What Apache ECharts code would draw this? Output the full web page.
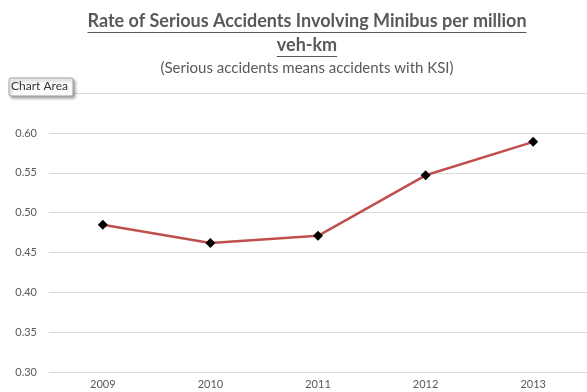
<!DOCTYPE html>
<html>
<head>
<meta charset="utf-8">
<script src="https://cdn.jsdelivr.net/npm/echarts@6/dist/echarts.min.js"></script>
<style>
html,body{margin:0;padding:0;background:#fff;}
#chart{width:587px;height:392px;}
</style>
</head>
<body>
<div id="chart"></div>
<script>
var categories = ['2009', '2010', '2011', '2012', '2013'];
var rates = [0.485, 0.462, 0.471, 0.547, 0.589];
var yTicks = [0.30, 0.35, 0.40, 0.45, 0.50, 0.55, 0.60, 0.65];
var titleLine1 = 'Rate of Serious Accidents Involving Minibus per million';
var titleLine2 = 'veh-km';
var subtitle = '(Serious accidents means accidents with KSI)';

var titleFont = 'bold 18px Lato';
function measure(text, font) {
  var c = document.createElement('canvas').getContext('2d');
  c.font = font;
  return c.measureText(text).width;
}
var cx = 307;
var w1 = measure(titleLine1, titleFont);
var w2 = measure(titleLine2, titleFont);

var chart = echarts.init(document.getElementById('chart'), null, {renderer: 'canvas'});
var textColor = '#595959';
chart.setOption({
  animation: false,
  grid: {left: 49, top: 93.3, bottom: 20, width: 546, containLabel: false},
  xAxis: {
    type: 'category',
    data: categories,
    boundaryGap: true,
    axisLine: {show: false},
    axisTick: {show: false},
    axisLabel: {color: textColor, fontSize: 11, fontFamily: 'Lato', margin: 7}
  },
  yAxis: {
    type: 'value',
    min: yTicks[0],
    max: yTicks[yTicks.length - 1],
    interval: 0.05,
    axisLine: {show: false},
    axisTick: {show: false},
    splitLine: {lineStyle: {color: '#D9D9D9', width: 1}},
    axisLabel: {
      color: textColor, fontSize: 11, fontFamily: 'Lato', margin: 12,
      formatter: function (v) { return v > 0.62 ? '' : v.toFixed(2); }
    }
  },
  series: [{
    type: 'line',
    data: rates,
    symbol: 'diamond',
    symbolSize: 10,
    itemStyle: {color: '#000'},
    lineStyle: {color: '#C0504D', width: 2.5},
    z: 3
  }],
  graphic: [
    {type: 'text', x: cx, y: 12, style: {text: titleLine1, font: titleFont, fill: textColor, textAlign: 'center'}},
    {type: 'line', shape: {x1: cx - w1 / 2, y1: 32.5, x2: cx + w1 / 2, y2: 32.5}, style: {stroke: textColor, lineWidth: 1}},
    {type: 'text', x: cx, y: 36, style: {text: titleLine2, font: titleFont, fill: textColor, textAlign: 'center'}},
    {type: 'line', shape: {x1: cx - w2 / 2, y1: 56.5, x2: cx + w2 / 2, y2: 56.5}, style: {stroke: textColor, lineWidth: 1}},
    {type: 'text', x: cx, y: 60.5, style: {text: subtitle, font: '15px Lato', fill: textColor, textAlign: 'center'}},
    {type: 'rect', shape: {x: 9, y: 78, width: 64, height: 18, r: 2},
      style: {fill: '#fbfbfb', stroke: '#a0a0a0', lineWidth: 1, shadowBlur: 3, shadowOffsetX: 2, shadowOffsetY: 2, shadowColor: 'rgba(0,0,0,0.35)'}, z: 10},
    {type: 'text', x: 11, y: 80.5, style: {text: 'Chart Area', font: '12px Lato', fill: '#333'}, z: 11}
  ]
});
</script>
</body>
</html>
